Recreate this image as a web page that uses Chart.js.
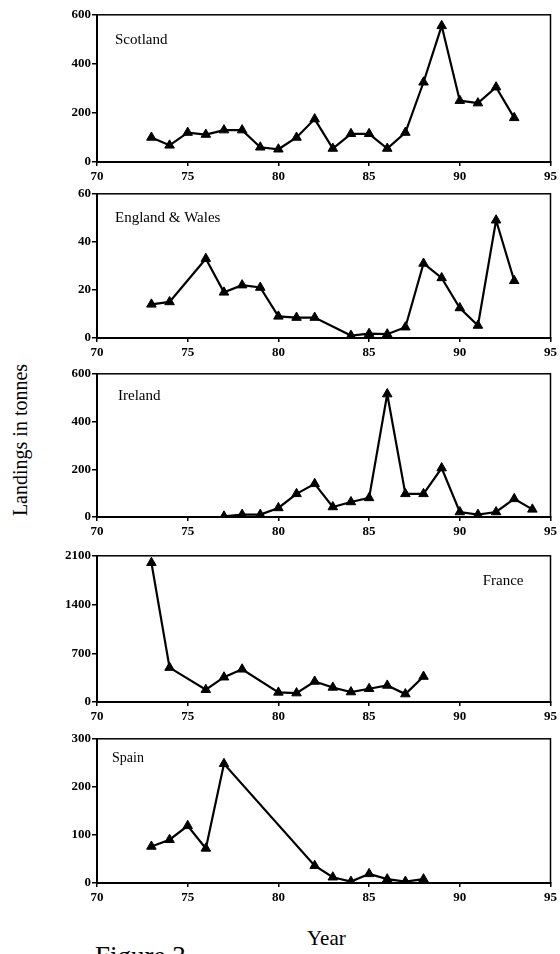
<!DOCTYPE html>
<html>
<head>
<meta charset="utf-8">
<script src="https://cdn.jsdelivr.net/npm/chart.js@4/dist/chart.umd.min.js"></script>
<style>
    body { margin: 0; width: 560px; height: 954px; overflow: hidden; background: #fff; font-family: "Liberation Serif", serif; }
    .panel { position: absolute; left: 0; }
    .txt { position: absolute; color: #000; white-space: nowrap; }
</style>
</head>
<body>
<div class="txt" style="left:20px; top:440px; font-size:20px; transform: translate(-50%, -50%) rotate(-90deg);">Landings in tonnes</div>
<div class="txt" style="left:307px; top:926px; font-size:21px;">Year</div>
<div class="txt" style="left:95px; top:941px; font-size:27px;">Figure 3</div>

<script>
// Jahre (x) und Anlandungen (y) pro Land
const xTicks = [70, 75, 80, 85, 90, 95];

const scotlandYears = [73, 74, 75, 76, 77, 78, 79, 80, 81, 82, 83, 84, 85, 86, 87, 88, 89, 90, 91, 92, 93];
const scotlandLandings = [100, 68, 120, 112, 130, 130, 60, 52, 100, 175, 55, 115, 115, 55, 120, 325, 555, 250, 240, 305, 180];

const englandYears = [73, 74, 76, 77, 78, 79, 80, 81, 82, 84, 85, 86, 87, 88, 89, 90, 91, 92, 93];
const englandLandings = [14, 15, 33, 19, 22, 21, 9, 8.5, 8.5, 1, 1.8, 1.6, 4.5, 31, 25, 12.5, 5.2, 49, 23.8];

const irelandYears = [77, 78, 79, 80, 81, 82, 83, 84, 85, 86, 87, 88, 89, 90, 91, 92, 93, 94];
const irelandLandings = [3, 10, 10, 38, 97, 139, 42, 63, 80, 515, 97, 97, 205, 21, 10, 21, 76, 32];

const franceYears = [73, 74, 76, 77, 78, 80, 81, 82, 83, 84, 85, 86, 87, 88];
const franceLandings = [2000, 494, 176, 356, 470, 138, 128, 295, 209, 143, 190, 238, 114, 366];

const spainYears = [73, 74, 75, 76, 77, 82, 83, 84, 85, 86, 87, 88];
const spainLandings = [76, 90, 119, 72, 248, 36, 12, 3, 19, 8, 3, 8];

const yTicksScotland = [0, 200, 400, 600];
const yTicksEngland = [0, 20, 40, 60];
const yTicksIreland = [0, 200, 400, 600];
const yTicksFrance = [0, 700, 1400, 2100];
const yTicksSpain = [0, 100, 200, 300];

// Rahmen + Beschriftung im Diagramm
const framePlugin = {
    id: "frame",
    afterDraw(chart, args, opts) {
        const { ctx, chartArea: a } = chart;
        ctx.save();
        ctx.strokeStyle = "#000";
        ctx.lineWidth = 1.5;
        ctx.strokeRect(a.left, a.top, a.right - a.left, a.bottom - a.top);
        ctx.fillStyle = "#000";
        ctx.font = opts.font;
        ctx.textBaseline = "middle";
        if (opts.align === "right") {
            ctx.textAlign = "right";
            ctx.fillText(opts.text, a.right + opts.dx, a.top + opts.dy);
        } else {
            ctx.textAlign = "left";
            ctx.fillText(opts.text, a.left + opts.dx, a.top + opts.dy);
        }
        ctx.restore();
    }
};

const tickFont = { family: "Liberation Serif", size: 13, weight: "bold" };

function makePanel(top, plotH, years, values, yTicks, label) {
    const padTop = 8, xAxisH = 26;
    const h = padTop + plotH + xAxisH;
    const canvas = document.createElement("canvas");
    canvas.className = "panel";
    canvas.style.top = (top - padTop) + "px";
    canvas.width = 560;
    canvas.height = h;
    canvas.style.width = "560px";
    canvas.style.height = h + "px";
    document.body.appendChild(canvas);

    const yMax = yTicks[yTicks.length - 1];
    return new Chart(canvas.getContext("2d"), {
        type: "line",
        data: {
            datasets: [{
                data: years.map((y, i) => ({ x: y, y: values[i] })),
                borderColor: "#000",
                backgroundColor: "#000",
                borderWidth: 2.2,
                pointStyle: "triangle",
                pointRadius: 5.5,
                pointBorderWidth: 1,
                tension: 0,
            }],
        },
        options: {
            responsive: false,
            animation: false,
            devicePixelRatio: 1,
            layout: { padding: { top: padTop, right: 8, left: 0, bottom: 0 } },
            plugins: {
                legend: { display: false },
                tooltip: { enabled: false },
                frame: label,
            },
            scales: {
                x: {
                    type: "linear",
                    min: xTicks[0],
                    max: xTicks[xTicks.length - 1],
                    afterBuildTicks: s => { s.ticks = xTicks.map(v => ({ value: v })); },
                    afterFit: s => { s.height = xAxisH; },
                    grid: { drawOnChartArea: false, drawTicks: true, tickLength: 4, color: "#000", lineWidth: 1.5 },
                    border: { display: true, color: "#000", width: 2 },
                    ticks: { color: "#000", padding: 3, font: tickFont, callback: v => String(v) },
                },
                y: {
                    min: 0,
                    max: yMax,
                    afterBuildTicks: s => { s.ticks = yTicks.map(v => ({ value: v })); },
                    afterFit: s => { s.width = 97; },
                    grid: { drawOnChartArea: false, drawTicks: true, tickLength: 5, color: "#000", lineWidth: 1.5 },
                    border: { display: true, color: "#000", width: 2 },
                    ticks: { color: "#000", padding: 1, font: tickFont, callback: v => String(v) },
                },
            },
        },
        plugins: [framePlugin],
    });
}

const labelFont = '15px "Liberation Serif"';
makePanel(14, 148, scotlandYears, scotlandLandings, yTicksScotland, { text: "Scotland", dx: 18, dy: 25, font: labelFont });
makePanel(193, 145, englandYears, englandLandings, yTicksEngland, { text: "England & Wales", dx: 18, dy: 24, font: labelFont });
makePanel(373, 144, irelandYears, irelandLandings, yTicksIreland, { text: "Ireland", dx: 21, dy: 22, font: labelFont });
makePanel(555, 147, franceYears, franceLandings, yTicksFrance, { text: "France", dx: -27, dy: 25, font: labelFont, align: "right" });
makePanel(738, 145, spainYears, spainLandings, yTicksSpain, { text: "Spain", dx: 15, dy: 20, font: '14px "Liberation Serif"' });
</script>
</body>
</html>
